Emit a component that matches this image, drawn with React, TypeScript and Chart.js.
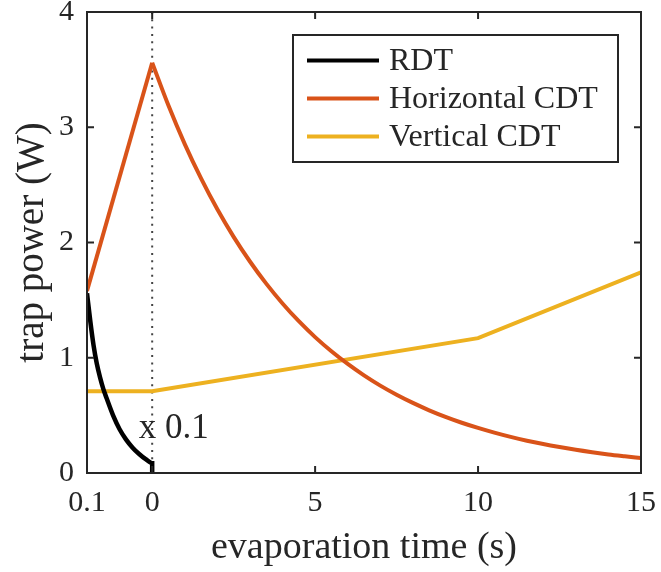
import { useEffect, useRef } from "react";
import { Chart, registerables } from "chart.js";

Chart.register(...registerables);

// RDT ramp (time axis compressed by 10 on the negative side)
const rdtTime = [-2, -1.9, -1.8, -1.7, -1.6, -1.5, -1.4, -1.2, -1.0, -0.8, -0.6, -0.4, -0.2, 0, 0];
const rdtPower = [1.56, 1.32, 1.11, 0.95, 0.83, 0.73, 0.65, 0.5, 0.38, 0.29, 0.22, 0.165, 0.12, 0.085, 0];

// Horizontal CDT: linear ramp-up during the RDT stage...
const hcdtRampTime = [-2, 0];
const hcdtRampPower = [1.58, 3.56];

// ...then the evaporation decay
const hcdtTime = [
  0, 0.5, 1, 1.5, 2, 2.5, 3, 3.5, 4, 4.5, 5, 5.5, 6, 6.5, 7, 7.5, 8, 8.5, 9, 9.5, 10,
  10.5, 11, 11.5, 12, 12.5, 13, 13.5, 14, 14.5, 15,
];
const hcdtPower = [
  3.56, 3.188, 2.854, 2.556, 2.288, 2.049, 1.835, 1.643, 1.471, 1.317, 1.179, 1.056, 0.946,
  0.847, 0.758, 0.679, 0.608, 0.544, 0.487, 0.436, 0.391, 0.35, 0.313, 0.28, 0.251, 0.225,
  0.201, 0.18, 0.161, 0.145, 0.13,
];

// Vertical CDT
const vcdtTime = [-2, 0, 10, 15];
const vcdtPower = [0.71, 0.71, 1.17, 1.74];

const xTickValues = [-2, 0, 5, 10, 15];
const xTickLabels = ["0.1", "0", "5", "10", "15"];
const yTickValues = [0, 1, 2, 3, 4];

const seriesNames = ["RDT", "Horizontal CDT", "Vertical CDT"];
const seriesColors = ["#000000", "#D95319", "#EDB120"];

const scaleNote = "x 0.1";
const scaleNoteAt = { x: 0.66, y: 0.38 };

const FONT = "'Liberation Serif', 'Times New Roman', serif";
const INK = "#262626";

const toPoints = (xs: number[], ys: number[]) => xs.map((x, i) => ({ x, y: ys[i] }));

const frame = {
  id: "frame",
  beforeDatasetsDraw(chart: any) {
    const { ctx, chartArea: a, scales } = chart;
    const x0 = scales.x.getPixelForValue(0);
    ctx.save();
    ctx.strokeStyle = "#444444";
    ctx.lineWidth = 2;
    ctx.setLineDash([2, 5.3]);
    ctx.beginPath();
    ctx.moveTo(x0, a.top);
    ctx.lineTo(x0, a.bottom);
    ctx.stroke();
    ctx.restore();
  },
  afterDatasetsDraw(chart: any) {
    const { ctx, chartArea: a, scales } = chart;
    const tick = 7;
    ctx.save();
    // axes box with inward ticks on all sides
    ctx.strokeStyle = INK;
    ctx.lineWidth = 2;
    ctx.strokeRect(a.left, a.top, a.right - a.left, a.bottom - a.top);
    ctx.beginPath();
    for (const v of xTickValues) {
      const px = scales.x.getPixelForValue(v);
      ctx.moveTo(px, a.bottom);
      ctx.lineTo(px, a.bottom - tick);
      ctx.moveTo(px, a.top);
      ctx.lineTo(px, a.top + tick);
    }
    for (const v of yTickValues) {
      const py = scales.y.getPixelForValue(v);
      ctx.moveTo(a.left, py);
      ctx.lineTo(a.left + tick, py);
      ctx.moveTo(a.right, py);
      ctx.lineTo(a.right - tick, py);
    }
    ctx.stroke();

    // scale note near the RDT segment
    ctx.fillStyle = INK;
    ctx.font = `35px ${FONT}`;
    ctx.textAlign = "center";
    ctx.textBaseline = "middle";
    ctx.fillText(
      scaleNote,
      scales.x.getPixelForValue(scaleNoteAt.x),
      scales.y.getPixelForValue(scaleNoteAt.y)
    );

    // legend box
    const w = 325;
    const h = 127;
    const left = a.right - 23 - w;
    const top = a.top + 23;
    ctx.fillStyle = "#ffffff";
    ctx.fillRect(left, top, w, h);
    ctx.strokeStyle = INK;
    ctx.lineWidth = 2;
    ctx.strokeRect(left, top, w, h);
    ctx.font = `32px ${FONT}`;
    ctx.textAlign = "left";
    ctx.textBaseline = "middle";
    const entries = chart.data.datasets.filter((ds: any) => ds.label);
    entries.forEach((ds: any, i: number) => {
      const y = top + 25.5 + i * 38;
      ctx.strokeStyle = ds.borderColor;
      ctx.lineWidth = 4;
      ctx.beginPath();
      ctx.moveTo(left + 14, y);
      ctx.lineTo(left + 86, y);
      ctx.stroke();
      ctx.fillStyle = INK;
      ctx.fillText(ds.label, left + 96, y + 1);
    });
    ctx.restore();
  },
};

export default function App() {
  const canvasRef = useRef<HTMLCanvasElement>(null);

  useEffect(() => {
    const canvas = canvasRef.current;
    if (!canvas) return;
    const chart = new Chart(canvas, {
      type: "line",
      data: {
        datasets: [
          {
            label: seriesNames[0],
            data: toPoints(rdtTime, rdtPower),
            borderColor: seriesColors[0],
            borderWidth: 4.5,
            cubicInterpolationMode: "monotone",
            pointRadius: 0,
          },
          {
            label: seriesNames[1],
            data: toPoints(hcdtTime, hcdtPower),
            borderColor: seriesColors[1],
            borderWidth: 4,
            cubicInterpolationMode: "monotone",
            pointRadius: 0,
          },
          {
            label: "",
            data: toPoints(hcdtRampTime, hcdtRampPower),
            borderColor: seriesColors[1],
            borderWidth: 4,
            tension: 0,
            pointRadius: 0,
          },
          {
            label: seriesNames[2],
            data: toPoints(vcdtTime, vcdtPower),
            borderColor: seriesColors[2],
            borderWidth: 4,
            tension: 0,
            pointRadius: 0,
          },
        ],
      },
      options: {
        responsive: false,
        animation: false,
        devicePixelRatio: 1,
        layout: { padding: { left: 0, top: 12, right: 20, bottom: 0 } },
        plugins: { legend: { display: false }, tooltip: { enabled: false } },
        scales: {
          x: {
            type: "linear",
            min: -2,
            max: 15,
            afterBuildTicks: (s: any) => {
              s.ticks = xTickValues.map((value) => ({ value }));
            },
            ticks: {
              callback: (_v: any, i: number) => xTickLabels[i],
              font: { family: FONT, size: 30 },
              color: INK,
              padding: 12,
              maxRotation: 0,
              autoSkip: false,
            },
            grid: { display: false, drawTicks: false },
            border: { display: false },
            title: {
              display: true,
              text: "evaporation time (s)",
              font: { family: FONT, size: 38 },
              color: INK,
              padding: { top: 0, bottom: 1 },
            },
            afterFit: (s: any) => {
              s.height = 99;
              s.paddingLeft = 0;
              s.paddingRight = 0;
            },
          },
          y: {
            type: "linear",
            min: 0,
            max: 4,
            ticks: {
              stepSize: 1,
              font: { family: FONT, size: 30 },
              color: INK,
              padding: 13,
            },
            grid: { display: false, drawTicks: false },
            border: { display: false },
            title: {
              display: true,
              text: "trap power (W)",
              font: { family: FONT, size: 39 },
              color: INK,
              padding: { top: 9, bottom: 0 },
            },
            afterFit: (s: any) => {
              s.width = 87;
              s.paddingTop = 0;
              s.paddingBottom = 0;
            },
          },
        },
      },
      plugins: [frame],
    });
    return () => chart.destroy();
  }, []);

  return (
    <div style={{ position: "fixed", left: 0, top: 0, width: 661, height: 572, background: "#ffffff" }}>
      <canvas ref={canvasRef} width={661} height={572} style={{ display: "block" }} />
    </div>
  );
}
